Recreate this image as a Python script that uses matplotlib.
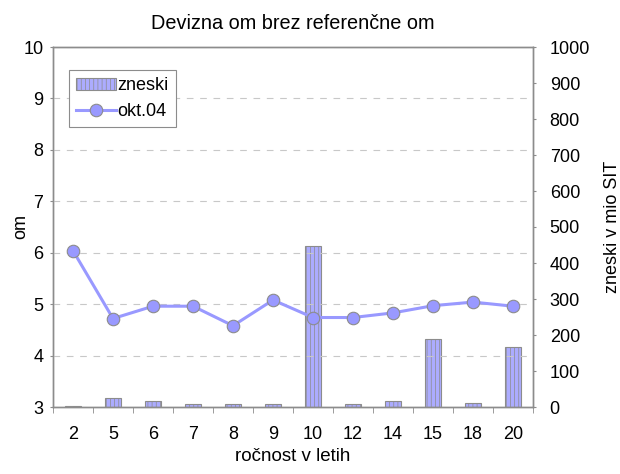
import numpy as np
import matplotlib
matplotlib.use('Agg')
import matplotlib.pyplot as plt

plt.rcParams['font.family'] = ['Liberation Sans', 'DejaVu Sans']
plt.rcParams['hatch.color'] = '#8e8ef0'
plt.rcParams['hatch.linewidth'] = 0.5

# --- Data ---
categories = ['2', '5', '6', '7', '8', '9', '10', '12', '14', '15', '18', '20']
om = [6.04, 4.72, 4.96, 4.96, 4.58, 5.08, 4.74, 4.74, 4.83, 4.97, 5.04, 4.96]
zneski = [4, 24, 18, 7, 9, 9, 448, 9, 18, 190, 12, 166]

x = np.arange(len(categories))
grey = '#8c8c8c'
blue = '#9999ff'
fs = 13

fig = plt.figure(figsize=(6.2, 4.74), dpi=100)
ax = fig.add_axes([53 / 620, 1 - 407 / 474, 480 / 620, 360 / 474])
ax2 = ax.twinx()

# bars on right axis (behind), line on left axis
ax2.bar(x, zneski, width=0.42, color='#acacff', edgecolor=grey, linewidth=0.8,
        hatch='||||', label='zneski', zorder=2)
ax2.set_ylim(0, 1000)
ax2.set_yticks(np.arange(0, 1001, 100))

ax.set_zorder(ax2.get_zorder() + 1)
ax.patch.set_visible(False)
ax.plot(x, om, color=blue, linewidth=2.2, marker='o', markersize=9,
        markerfacecolor=blue, markeredgecolor=grey, markeredgewidth=0.8,
        label='okt.04', zorder=3)
ax.set_ylim(3, 10)
ax.set_yticks(np.arange(3, 11, 1))
ax.set_xlim(-0.5, len(categories) - 0.5)
ax.set_xticks(x)
ax.set_xticklabels(categories)
ax.set_xticks(np.arange(-0.5, len(categories)), minor=True)
ax.tick_params(axis='x', which='major', length=0, pad=14, labelsize=fs)
ax.tick_params(axis='x', which='minor', length=4.5, color=grey)
ax.tick_params(axis='y', length=2, color=grey, labelsize=fs, pad=5)
ax2.tick_params(axis='y', length=2, color=grey, labelsize=fs, pad=10)

ax.yaxis.grid(True, linestyle=(0, (6, 6)), color='#c8c8c8', linewidth=0.8)
ax.set_axisbelow(True)

for a in (ax, ax2):
    for s in a.spines.values():
        s.set_color(grey)
        s.set_linewidth(1.0)

ax.set_xlabel('ročnost v letih', fontsize=13.5, labelpad=3)
ax.set_ylabel('om', fontsize=fs)
ax.yaxis.set_label_coords(-0.05, 0.5)
ax2.set_ylabel('zneski v mio SIT', fontsize=fs)
ax2.yaxis.set_label_coords(1.147, 0.5)
ax.set_title('Devizna om brez referenčne om', fontsize=14.3, pad=13)

h1, l1 = ax2.get_legend_handles_labels()
h2, l2 = ax.get_legend_handles_labels()
leg = ax.legend(h1 + h2, l1 + l2, loc='upper left',
                bbox_to_anchor=(16 / 480, 1 - 23 / 360),
                fontsize=fs, fancybox=False, framealpha=1, edgecolor=grey,
                handlelength=2.2, handletextpad=0.1, borderpad=0.4,
                labelspacing=0.5, borderaxespad=0)
leg.get_frame().set_linewidth(0.8)

plt.savefig('out.png', dpi=100)
